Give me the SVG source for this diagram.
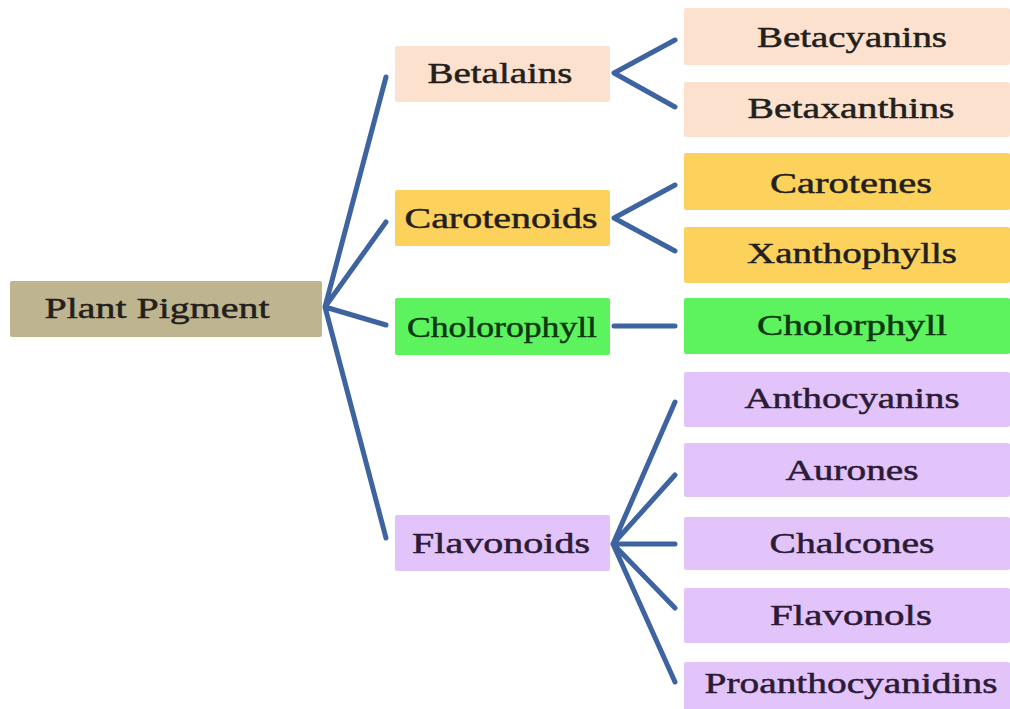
<svg xmlns="http://www.w3.org/2000/svg" width="1010" height="709" viewBox="0 0 1010 709">
<style>
text{font-family:"Liberation Serif","Times New Roman",serif;font-size:30px;text-anchor:middle;fill:#231f1c;stroke:#231f1c;stroke-width:0.5}
.c{fill:none;stroke:#3d63a0;stroke-width:5;stroke-linecap:round;stroke-linejoin:round}
.root{fill:#beb48f}
.bet{fill:#fde1cf}
.car{fill:#fcd25d}
.chl{fill:#5cf35e}
.fla{fill:#e2c3fa}
text.g{fill:#0e360f;stroke:#0e360f}
text.p{fill:#2c1b36;stroke:#2c1b36}
</style>
<rect width="1010" height="709" fill="#ffffff"/>
<g id="connectors">
<path class="c" d="M386,77 L325,307 L386,222 M325,307 L386,325 M325,307 L386,538"/>
<path class="c" d="M675,40 L614,73 L675,107"/>
<path class="c" d="M675,185 L614,218 L675,251"/>
<path class="c" d="M614,326 L675,326"/>
<path class="c" d="M675,402 L613,544 L675,475 M613,544 L675,544 M613,544 L675,608 M613,544 L675,682"/>
</g>
<g id="plant-pigment"><rect class="root" x="10" y="281" width="312" height="56" rx="2"/><text x="157" y="318" textLength="225" lengthAdjust="spacingAndGlyphs">Plant Pigment</text></g>
<g id="betalains"><rect class="bet" x="395" y="46" width="215" height="56" rx="2"/><text x="500" y="83" textLength="145" lengthAdjust="spacingAndGlyphs">Betalains</text></g>
<g id="carotenoids"><rect class="car" x="395" y="190" width="215" height="56" rx="2"/><text x="501" y="228" textLength="193" lengthAdjust="spacingAndGlyphs">Carotenoids</text></g>
<g id="cholorophyll"><rect class="chl" x="395" y="298" width="215" height="57" rx="2"/><text class="g" x="502" y="337" textLength="190" lengthAdjust="spacingAndGlyphs">Cholorophyll</text></g>
<g id="flavonoids"><rect class="fla" x="395" y="515" width="215" height="56" rx="2"/><text x="501" y="553" textLength="178" lengthAdjust="spacingAndGlyphs" class="p">Flavonoids</text></g>
<g id="betacyanins"><rect class="bet" x="684" y="8" width="326" height="57" rx="2"/><text x="852" y="47" textLength="190" lengthAdjust="spacingAndGlyphs">Betacyanins</text></g>
<g id="betaxanthins"><rect class="bet" x="684" y="82" width="326" height="55" rx="2"/><text x="851" y="118" textLength="207" lengthAdjust="spacingAndGlyphs">Betaxanthins</text></g>
<g id="carotenes"><rect class="car" x="684" y="153" width="326" height="57" rx="2"/><text x="851" y="193" textLength="162" lengthAdjust="spacingAndGlyphs">Carotenes</text></g>
<g id="xanthophylls"><rect class="car" x="684" y="227" width="326" height="56" rx="2"/><text x="852" y="263" textLength="210" lengthAdjust="spacingAndGlyphs">Xanthophylls</text></g>
<g id="cholorphyll"><rect class="chl" x="684" y="298" width="326" height="56" rx="2"/><text class="g" x="852" y="335" textLength="190" lengthAdjust="spacingAndGlyphs">Cholorphyll</text></g>
<g id="anthocyanins"><rect class="fla" x="684" y="372" width="326" height="55" rx="2"/><text class="p" x="852" y="408" textLength="215" lengthAdjust="spacingAndGlyphs">Anthocyanins</text></g>
<g id="aurones"><rect class="fla" x="684" y="443" width="326" height="54" rx="2"/><text class="p" x="852" y="480" textLength="133" lengthAdjust="spacingAndGlyphs">Aurones</text></g>
<g id="chalcones"><rect class="fla" x="684" y="517" width="326" height="53" rx="2"/><text class="p" x="852" y="553" textLength="165" lengthAdjust="spacingAndGlyphs">Chalcones</text></g>
<g id="flavonols"><rect class="fla" x="684" y="588" width="326" height="55" rx="2"/><text class="p" x="851" y="625" textLength="162" lengthAdjust="spacingAndGlyphs">Flavonols</text></g>
<g id="proanthocyanidins"><rect class="fla" x="684" y="662" width="326" height="55" rx="2"/><text class="p" x="851" y="693" textLength="293" lengthAdjust="spacingAndGlyphs">Proanthocyanidins</text></g>
</svg>
